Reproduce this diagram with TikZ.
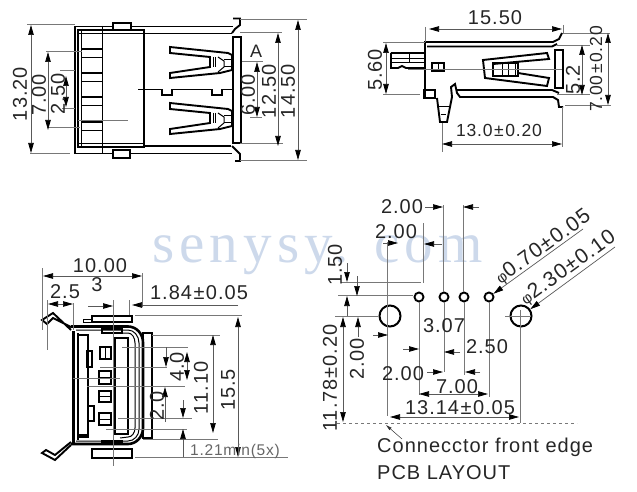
\documentclass[tikz,border=0pt]{standalone}
\usepackage{fontspec}
\setmainfont{Liberation Sans}
\newfontfamily\dimfont[LetterSpace=5]{Liberation Sans}
\newfontfamily\markfont[LetterSpace=9]{Liberation Serif}
\usetikzlibrary{arrows.meta, calc, positioning}
\definecolor{markblue}{RGB}{205,217,235}
\definecolor{extgray}{RGB}{120,120,120}
\newcommand{\plusmin}{\kern1.5pt±\kern1.5pt}
\begin{document}
\begin{tikzpicture}[x=1pt,y=-1pt,
  dimtext/.style={inner sep=0pt,text=black!85,font=\fontsize{20}{20}\dimfont},
  tolertext/.style={dimtext,font=\fontsize{17.5}{18}\dimfont},
  leadtext/.style={dimtext,rotate=36,font=\fontsize{21}{21}\dimfont},
  uptext/.style={dimtext,rotate=90},
  noteline/.style={inner sep=0pt,text=black!85,font=\fontsize{20}{20}\dimfont,anchor=west},
  dimline/.style={color=black!65,line width=0.7pt,{Triangle[length=10pt,width=5.5pt,color=black]}-{Triangle[length=10pt,width=5.5pt,color=black]}},
  tipline/.style={color=black!65,line width=0.7pt,-{Triangle[length=10pt,width=5.5pt,color=black]}},
  extline/.style={color=extgray,line width=0.7pt},
  partwide/.style={color=black,line width=2.6pt},
  partthick/.style={color=black,line width=1.9pt},
  partthin/.style={color=black,line width=1pt},
  pinhole/.style={circle,draw=black,line width=1.9pt,fill=white,inner sep=0pt,minimum size=9pt},
  bighole/.style={circle,draw=black,line width=2pt,inner sep=0pt,minimum size=21pt}]
\useasboundingbox (0,0) rectangle (637,492);
\node[inner sep=0pt,text=markblue,font=\fontsize{57}{57}\markfont,anchor=base west] (mark) at (152,262) {senysy. com};

% top left view
\draw[partthick] (233,26.5) -- (75,26.5) -- (75,153.5) -- (232,153.5);
\draw[partthick] (78,30) rectangle (144,147);
\draw[partthin] (78,33.5) -- (232,33.5);
\draw[partthin] (78,144) -- (144,144);
\draw[partthick] (144,146) -- (231,146);
\draw[partthin] (102,26) -- (102,153);
\draw[partthin] (81,30) -- (81,147);
\draw[partthick,fill=white] (113,23) rectangle (131,30);
\draw[partthick,fill=white] (113,150) rectangle (130,158);
\foreach \y in {49,73,97,122}{
  \draw[partthick] (82,\y) -- (102,\y);
  \draw[partthick] (82,\y+8.5) -- (102,\y+8.5);
};
\draw[partthick] (233,18.5) -- (240,18.5) -- (240,25) -- (235,29) -- (232,33);
\draw[partthick] (232,146) -- (236,150) -- (240,154) -- (240,161) -- (235,161);
\draw[partthick] (233,37) -- (241,37) -- (241,143) -- (233,143) -- cycle;
\draw[partthick] (138,89.5) -- (162,89.5) -- (162,95) -- (172,95) -- (172,89.5) -- (212,89.5) -- (212,95) -- (222,95) -- (222,89.5) -- (233,89.5);
\foreach \y in {0,56}{
  \draw[partthick] (170,\y+47) -- (228,\y+53) -- (232,\y+55) -- (232,\y+70) -- (220,\y+73) -- (170,\y+78) -- (170,\y+73) -- (210,\y+67) -- (210,\y+57) -- (170,\y+53) -- cycle;
  \draw[partthin] (213,\y+57) -- (213,\y+67);
  \draw[partthin] (215.5,\y+57) -- (215.5,\y+67);
  \draw[partthin] (218,\y+57) -- (224,\y+61) -- (224,\y+67) -- (218,\y+72);
  \draw[partthin] (224,\y+60) -- (232,\y+60);
  \draw[partthin] (224,\y+67) -- (232,\y+67);
};
\foreach \xa/\ya/\xb/\yb in {27/24.5/75/24.5,30/153.5/70/153.5,46/51.5/82/51.5,48/127/80/127,60/70.5/75/70.5,62/108/75/108,78/120.5/128/120.5,242/61/263/61,250/117/262/117,240/32.5/282/32.5,240/143/283/143,240/19.5/307/19.5,240/160.5/307/160.5}{
  \draw[extline] (\xa,\ya) -- (\xb,\yb);
};
\draw[dimline] (31,25) -- (31,153);
\draw[dimline] (48,52) -- (48,130);
\draw[dimline] (66,76) -- (66,107);
\draw[dimline] (257,62) -- (257,117);
\draw[dimline] (278,33) -- (278,146);
\draw[dimline] (298,20) -- (298,160);
\node[uptext] (dim-tl-a) at (20,94) {13.20};
\node[uptext] (dim-tl-b) at (39,95) {7.00};
\node[uptext] (dim-tl-c) at (58,94) {2.50};
\node[uptext] (dim-tl-d) at (248,95) {6.00};
\node[uptext] (dim-tl-e) at (269,91) {12.50};
\node[uptext] (dim-tl-f) at (288,91) {14.50};
\node[inner sep=0pt,text=black!85,font=\fontsize{18}{18}\dimfont] (dim-tl-g) at (256,51) {A};

% top right view
\draw[partthick] (425,97) -- (425,42) -- (553,42) -- (559,39) -- (562,33);
\draw[partthick] (427,46.5) -- (552,46.5) -- (557,44);
\draw[partthick] (555,50) -- (563,50) -- (563,88) -- (555,88) -- cycle;
\draw[partthick] (424,90) rectangle (435,98);
\draw[partthick] (437,98) -- (440,122) -- (447,122) -- (452,97) -- (451,87) -- (455,84) -- (457,93) -- (460,97) -- (553,97) -- (558,100) -- (559,107) -- (563,107);
\draw[partthin] (438,107) -- (450,107);
\draw[partthin] (441,115) -- (446,115);
\draw[partthick] (456,90) -- (552,90) -- (559,93);
\draw[partthick] (391,53) -- (424,53);
\draw[partthick] (391,53) -- (391,68) -- (398,68) -- (402,66) -- (406,68) -- (424,68);
\draw[partthin] (391,59) -- (424,59);
\draw[partthick] (391,62.5) -- (424,62.5);
\draw[partthin] (409,53) -- (409,62);
\draw[partthick] (432,63) rectangle (444,71);
\draw[partthin] (438,63) -- (438,71);
\draw[partthick] (493,64) -- (549,59) -- (547,53) -- (483,60) -- (485,78) -- (547,86) -- (549,78) -- (518,73);
\draw[partthick] (493,63) rectangle (518,76);
\draw[partthin] (502,63) -- (502,76);
\draw[partthin] (508,63) -- (508,76);
\draw[partthin] (515,63) -- (515,76);
\foreach \xa/\ya/\xb/\yb in {425/27/425/42,563/25/563/33,383/42.5/425/42.5,383/94.5/420/94.5,408/69/562/69,557/45/590/45,557/94/590/94,563/33/610/33,565/105/611/105,442/123/442/152,562/107/562/147}{
  \draw[extline] (\xa,\ya) -- (\xb,\yb);
};
\draw[dimline] (429,29) -- (562,29);
\draw[dimline] (386,43) -- (386,94);
\draw[dimline] (582,45) -- (582,95);
\draw[dimline] (608,33) -- (608,105);
\draw[dimline] (442,144) -- (562,144);
\node[dimtext] (dim-tr-a) at (495,18) {15.50};
\node[uptext] (dim-tr-b) at (375,70) {5.60};
\node[uptext] (dim-tr-c) at (573,80) {5.2};
\node[tolertext,rotate=90] (dim-tr-d) at (596,69) {7.00\plusmin 0.20};
\node[tolertext] (dim-tr-e) at (499,130) {13.0\plusmin 0.20};

% bottom left view
\draw[partwide] (73.5,331) -- (73.5,443);
\draw[partthick] (78,333) -- (78,440);
\draw[partwide] (71,326.5) -- (128,326.5) arc (-90:0:15 and 16) -- (143,428) arc (0:90:15 and 16) -- (71,444);
\draw[partthin] (76,330) -- (128,330) arc (-90:0:11 and 13) -- (139,429) arc (0:90:11 and 12) -- (76,441);
\draw[partthin] (120,333) -- (128,333) arc (-90:0:7 and 10) -- (135,428) arc (0:90:7 and 9) -- (120,438);
\draw[partwide] (102,329) rectangle (122,333);
\draw[partwide] (102,441) rectangle (122,443);
\draw[partthick] (143,333) rectangle (152,438);
\draw[partthick] (115,338) rectangle (128,434);
\draw[partthick] (78,335) rectangle (88,437);
\draw[partwide] (78,435) -- (88,435);
\draw[partthin] (83,322) rectangle (92,319);
\draw[partthick,fill=white] (92,316) rectangle (132,322);
\draw[partthick,fill=white] (92,449) rectangle (132,458);
\draw[partthick] (100,347) rectangle (111,359);
\draw[partthin] (105.5,347) -- (105.5,359);
\foreach \y/\h in {371/13,391/11,413/12}{
  \draw[partthick] (99,\y) rectangle (111,\y+\h);
  \draw[partthin] (99,\y+\h/2) -- (111,\y+\h/2);
};
\draw[partthick] (87,351) rectangle (92,367);
\draw[partthick] (88,406) rectangle (94,421);
\draw[partthick] (71,330) -- (53,313) -- (42,320) -- (47,324) -- (53,318) -- (71,327);
\draw[partthick] (71,445) -- (55,460) -- (42,453) -- (46,450) -- (55,455) -- (71,442);
\foreach \xa/\ya/\xb/\yb in {42/268/42/330,142/273/142/307,47/300/47/350,73/303/73/330,113/300/113/466,129/300/129/315,135/315/242/315,135/457/288/457,152/335/220/335,143/439/218/439,122/347/188/347,100/367/167/367,87/386/185/386,118/418/192/418,106/429/187/429,73/378/120/378}{
  \draw[extline] (\xa,\ya) -- (\xb,\yb);
};
\draw[dimline] (43,276) -- (142,276);
\draw[dimline] (48,304) -- (73,304);
\draw[tipline] (88,306) -- (113,306);
\draw[tipline] (238,305) -- (132,305);
\draw[dimline] (238,317) -- (238,457);
\draw[dimline] (213,335) -- (213,433);
\draw[dimline] (187,352) -- (187,380);
\draw[tipline] (166,347) -- (166,367);
\draw[tipline] (165,422) -- (165,387);
\draw[tipline] (183,400) -- (183,418);
\draw[tipline] (183,457) -- (183,429);
\node[dimtext] (dim-bl-a) at (100,266) {10.00};
\node[dimtext] (dim-bl-b) at (65,292) {2.5};
\node[dimtext] (dim-bl-c) at (97,285) {3};
\node[dimtext] (dim-bl-d) at (199,293) {1.84\plusmin 0.05};
\node[uptext] (dim-bl-e) at (228,390) {15.5};
\node[uptext] (dim-bl-f) at (201,388) {11.10};
\node[uptext] (dim-bl-g) at (177,367) {4.0};
\node[uptext] (dim-bl-h) at (157,406) {2.0};
\node[inner sep=0pt,text=black!60,font=\fontsize{15.5}{16}\dimfont] (dim-bl-i) at (235,451) {1.21min(5x)};

% pcb layout
\foreach \n/\x in {a/419,b/444,c/464,d/489}{
  \node[pinhole] (pin-\n) at (\x,297) {};
};
\node[bighole] (big-a) at (390,316) {};
\node[bighole] (big-b) at (521,316) {};
\draw[extline] (387,242) -- (387,416);
\draw[extline] (520,310) -- (520,423);
\draw[extline] (505,316) -- (531,316);
\foreach \xa/\ya/\xb/\yb in {443/205/443/292,463/205/463/292,423/223/423/283,341/282/421/282,338/295/413/295,335/316/378/316,419/302/419/395,444/302/444/372,464/302/464/375,489/302/489/397}{
  \draw[extline] (\xa,\ya) -- (\xb,\yb);
};
\draw[extline,dashed] (337,423) -- (577,423);
\draw[tipline] (425,207) -- (443,207);
\draw[tipline] (479,207) -- (463,207);
\draw[tipline] (383,243) -- (398,243);
\draw[tipline] (442,244) -- (424,244);
\draw[tipline] (347,263) -- (347,282);
\draw[tipline] (357,276) -- (357,296);
\draw[tipline] (347,316) -- (347,296);
\draw[tipline] (358,337) -- (358,317);
\draw[dimline] (343,317) -- (343,422);
\draw[tipline] (373,335) -- (388,335);
\draw[tipline] (403,349) -- (419,349);
\draw[tipline] (460,352) -- (444,352);
\draw[tipline] (427,372) -- (443,372);
\draw[tipline] (480,372) -- (465,372);
\draw[dimline] (419,394) -- (488,394);
\draw[dimline] (390,417) -- (519,417);
\coordinate (lead-a) at (583,229);
\coordinate (lead-b) at (615,247);
\draw[tipline] (lead-a) -- (pin-d);
\draw[tipline] (lead-b) -- (big-b);
\node[dimtext] (dim-pcb-a) at (402,207) {2.00};
\node[dimtext] (dim-pcb-b) at (396,232) {2.00};
\node[uptext] (dim-pcb-c) at (335,265) {1.50};
\node[uptext] (dim-pcb-d) at (330,378) {11.78±0.20};
\node[uptext] (dim-pcb-e) at (357,359) {2.00};
\node[dimtext] (dim-pcb-f) at (444,326) {3.07};
\node[dimtext] (dim-pcb-g) at (487,347) {2.50};
\node[dimtext] (dim-pcb-h) at (403,374) {2.00};
\node[dimtext] (dim-pcb-i) at (457,387) {7.00};
\node[dimtext] (dim-pcb-j) at (460,408) {13.14\plusmin 0.05};
\node[leadtext] (dim-pcb-k) at (543,247) {{\fontsize{15}{15}\selectfont φ}0.70\plusmin 0.05};
\node[leadtext] (dim-pcb-l) at (568,268) {{\fontsize{15}{15}\selectfont φ}2.30\plusmin 0.10};
\node[noteline] (note-edge) at (377,447) {Connecctor front edge};
\node[noteline] (note-pcb) at (377,473) {PCB LAYOUT};
\coordinate (edge-tip) at (386,425);
\coordinate (edge-tail) at (402,439);
\draw[color=black!80,line width=0.5pt,-{Triangle[length=6pt,width=3pt]}] (edge-tail) -- (edge-tip);
\end{tikzpicture}
\end{document}
